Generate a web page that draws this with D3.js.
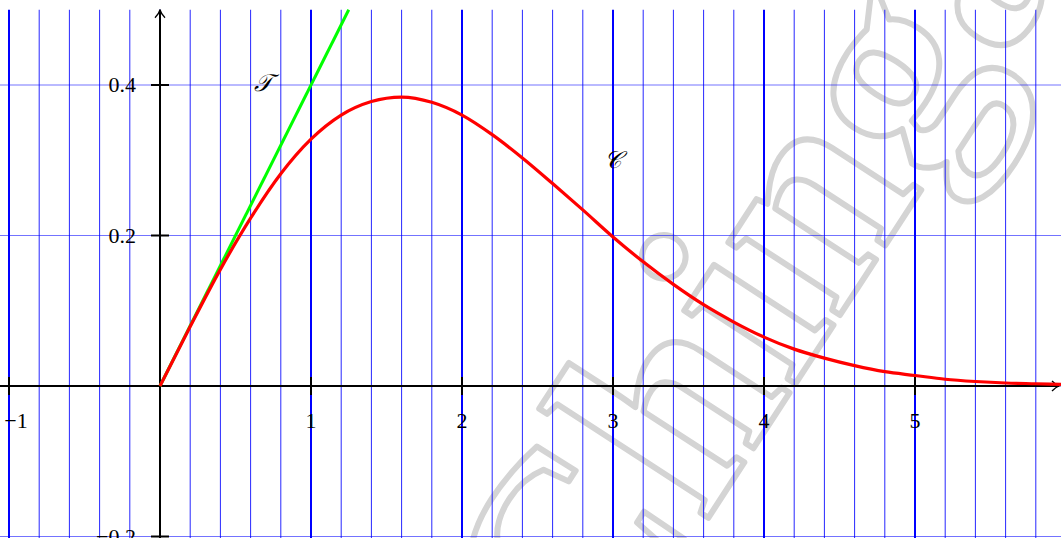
<!DOCTYPE html>
<html>
<head>
<meta charset="utf-8">
<script src="https://cdn.jsdelivr.net/npm/d3@7"></script>
<style>
  html, body { margin: 0; padding: 0; background: #fff; overflow: hidden; }
</style>
</head>
<body>
<div id="chart"></div>
<script>
// Curve C (step 0.2)
const curveX = [0, 0.2, 0.4, 0.6, 0.8, 1.0, 1.2, 1.4, 1.6, 1.8, 2.0, 2.2, 2.4, 2.6, 2.8, 3.0,
    3.2, 3.4, 3.6, 3.8, 4.0, 4.2, 4.4, 4.6, 4.8, 5.0, 5.2, 5.4, 5.6, 5.8, 6.0];
const curveY = [0, 0.079, 0.155, 0.223, 0.282, 0.328, 0.360, 0.378, 0.384, 0.377, 0.360, 0.334,
    0.303, 0.269, 0.234, 0.198, 0.165, 0.135, 0.108, 0.085, 0.065, 0.049, 0.037, 0.027, 0.019,
    0.014, 0.009, 0.006, 0.004, 0.003, 0.002];

// Tangent T at the origin
const tangentX = [0, 1.25];
const tangentY = [0, 0.5];

const xTicks = [-1, 1, 2, 3, 4, 5];
const xTickLabels = ['\u22121', '1', '2', '3', '4', '5'];
const yTicks = [-0.2, 0.2, 0.4];
const yTickLabels = ['\u22120.2', '0.2', '0.4'];
const hGrid = [-0.2, 0, 0.2, 0.4];

const width = 1061;
const height = 538;

const svg = d3.select('#chart')
    .append('svg')
    .attr('width', width)
    .attr('height', height)
    .style('display', 'block')
    .style('background', '#fff');

const x = d3.scaleLinear().domain([-1, 6]).range([9, 9 + 7 * 151]);
const y = d3.scaleLinear().domain([-0.2, 0.5]).range([536.5, 9.75]);

// Watermark
svg.append('text')
    .attr('transform', 'translate(590,700) rotate(-57)')
    .attr('font-family', 'Liberation Serif, serif')
    .attr('font-weight', 'bold')
    .attr('font-size', 290)
    .attr('fill', 'none')
    .attr('stroke', '#d4d4d4')
    .attr('stroke-width', 6)
    .attr('stroke-linejoin', 'round')
    .text('Chingatome');

// Vertical grid
const vGrid = d3.range(-5, 31).map(i => i / 5);
svg.selectAll('.vgrid')
    .data(vGrid)
    .join('line')
    .attr('class', 'vgrid')
    .attr('x1', d => x(d))
    .attr('x2', d => x(d))
    .attr('y1', y(0.5))
    .attr('y2', height)
    .attr('stroke', '#0000ff')
    .attr('stroke-width', d => Math.abs(d - Math.round(d)) < 1e-6 ? 2 : 1)
    .attr('stroke-opacity', d => Math.abs(d - Math.round(d)) < 1e-6 ? 1 : 0.85);

// Horizontal grid
svg.selectAll('.hgrid')
    .data(hGrid)
    .join('line')
    .attr('class', 'hgrid')
    .attr('x1', 0)
    .attr('x2', width)
    .attr('y1', d => y(d))
    .attr('y2', d => y(d))
    .attr('stroke', '#0000ff')
    .attr('stroke-width', 1)
    .attr('stroke-opacity', 0.55);

// Axes
const axes = svg.append('g')
    .attr('stroke', '#000')
    .attr('stroke-width', 2)
    .attr('fill', 'none');

axes.append('line')
    .attr('x1', 0).attr('x2', width - 2)
    .attr('y1', y(0)).attr('y2', y(0));

axes.append('line')
    .attr('x1', x(0)).attr('x2', x(0))
    .attr('y1', height).attr('y2', y(0.5));

// Arrow heads
axes.append('path')
    .attr('stroke-width', 1.3)
    .attr('d', `M${width - 9},${y(0) - 5} Q${width - 5},${y(0) - 1} ${width - 2},${y(0)} Q${width - 5},${y(0) + 1} ${width - 9},${y(0) + 5}`);
axes.append('path')
    .attr('stroke-width', 1.3)
    .attr('d', `M${x(0) - 5},${y(0.5) + 8} Q${x(0) - 1},${y(0.5) + 4} ${x(0)},${y(0.5)} Q${x(0) + 1},${y(0.5) + 4} ${x(0) + 5},${y(0.5) + 8}`);

// Ticks
axes.selectAll('.xtick')
    .data(xTicks)
    .join('line')
    .attr('class', 'xtick')
    .attr('x1', d => x(d)).attr('x2', d => x(d))
    .attr('y1', y(0) - 9).attr('y2', y(0) + 9);

axes.selectAll('.ytick')
    .data(yTicks)
    .join('line')
    .attr('class', 'ytick')
    .attr('x1', x(0) - 9).attr('x2', x(0) + 9)
    .attr('y1', d => y(d)).attr('y2', d => y(d));

// Tick labels
svg.selectAll('.xlabel')
    .data(xTicks)
    .join('text')
    .attr('class', 'xlabel')
    .attr('x', d => x(d) + (d < 0 ? 7 : 0))
    .attr('y', y(0) + 42)
    .attr('text-anchor', 'middle')
    .attr('font-family', 'Liberation Serif, serif')
    .attr('font-size', 22)
    .attr('fill', '#000')
    .text((d, i) => xTickLabels[i]);

svg.selectAll('.ylabel')
    .data(yTicks)
    .join('text')
    .attr('class', 'ylabel')
    .attr('x', x(0) - 24)
    .attr('y', d => y(d) + 7)
    .attr('text-anchor', 'end')
    .attr('font-family', 'Liberation Serif, serif')
    .attr('font-size', 22)
    .attr('fill', '#000')
    .text((d, i) => yTickLabels[i]);

// Tangent line
const line = d3.line()
    .x(d => x(d[0]))
    .y(d => y(d[1]));

svg.append('path')
    .datum(tangentX.map((v, i) => [v, tangentY[i]]))
    .attr('fill', 'none')
    .attr('stroke', '#00ff00')
    .attr('stroke-width', 3)
    .attr('d', line);

// Curve
svg.append('path')
    .datum(curveX.map((v, i) => [v, curveY[i]]))
    .attr('fill', 'none')
    .attr('stroke', '#ff0000')
    .attr('stroke-width', 3.2)
    .attr('stroke-linejoin', 'round')
    .attr('d', line.curve(d3.curveMonotoneX));

// Curve names
svg.append('text')
    .attr('x', x(0.68))
    .attr('y', y(0.4) + 6)
    .attr('text-anchor', 'middle')
    .attr('font-family', 'DejaVu Serif, serif')
    .attr('font-style', 'italic')
    .attr('font-size', 24)
    .attr('fill', '#000')
    .text('\uD835\uDCAF');

svg.append('text')
    .attr('x', x(3) - 1)
    .attr('y', y(0.3) + 8)
    .attr('text-anchor', 'middle')
    .attr('font-family', 'DejaVu Serif, serif')
    .attr('font-style', 'italic')
    .attr('font-size', 24)
    .attr('fill', '#000')
    .text('\uD835\uDC9E');
</script>
</body>
</html>
